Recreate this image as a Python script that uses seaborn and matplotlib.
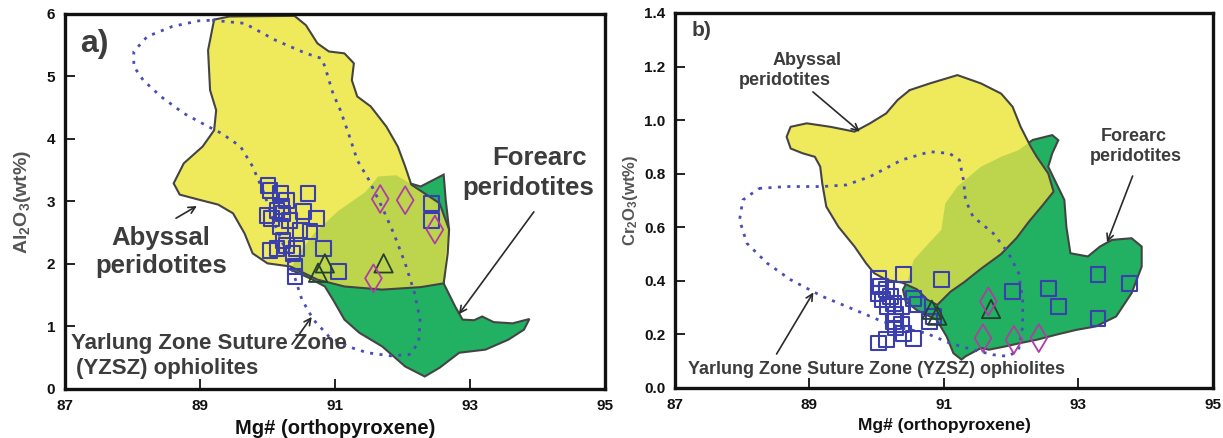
import matplotlib
matplotlib.use("Agg")
import matplotlib.pyplot as plt
import seaborn as sns

# ---- panel a: Al2O3 vs Mg# ----
# abyssal peridotite field
aby_a_x = [89.21, 89.44, 90.40, 90.57, 90.74, 90.91, 91.14, 91.28, 91.25, 91.33, 91.53, 91.76, 91.93,
           92.04, 92.13, 92.55, 92.69, 92.67, 92.61, 92.27, 91.70, 91.14, 90.74, 90.34, 90.00, 89.78,
           89.66, 89.49, 89.27, 88.98, 88.70, 88.61, 88.76, 89.04, 89.21, 89.24, 89.15, 89.12]
aby_a_y = [5.91, 5.96, 5.97, 5.82, 5.53, 5.40, 5.37, 5.21, 4.94, 4.68, 4.52, 4.20, 3.88,
           3.56, 3.27, 2.97, 2.55, 2.17, 1.69, 1.63, 1.59, 1.64, 1.75, 1.96, 2.01, 2.17,
           2.49, 2.81, 2.95, 3.03, 3.11, 3.29, 3.61, 3.88, 4.14, 4.46, 4.78, 5.42]
# forearc peridotite field
fore_a_x = [92.61, 92.64, 92.69, 92.64, 92.61, 92.78, 92.89, 93.06, 93.18, 93.35, 93.63, 93.88,
            93.80, 93.57, 93.23, 92.84, 92.55, 92.33, 92.04, 91.70, 91.36, 91.14, 90.97, 90.85,
            90.63, 90.34, 90.45, 90.70, 91.05, 91.45, 91.64, 91.91, 92.11, 92.27]
fore_a_y = [3.43, 3.03, 2.55, 2.17, 1.69, 1.32, 1.11, 1.10, 1.16, 1.07, 1.05, 1.12,
            0.95, 0.79, 0.63, 0.58, 0.34, 0.20, 0.36, 0.68, 0.90, 1.11, 1.43, 1.64,
            1.77, 1.91, 2.15, 2.50, 2.85, 3.15, 3.40, 3.42, 3.29, 3.24]
# YZSZ ophiolite field (dotted)
yz_a_x = [89.18, 89.66, 90.12, 90.57, 90.80, 90.85, 90.97, 91.08, 91.20, 91.33, 91.50, 91.71, 91.87,
          92.04, 92.18, 92.26, 92.24, 92.10, 91.82, 91.48, 91.19, 90.91, 90.68, 90.51, 90.40, 90.29,
          90.12, 89.95, 89.78, 89.60, 89.32, 89.12, 88.76, 88.42, 88.16, 88.02, 88.02, 88.22, 88.59,
          88.98, 89.18]
yz_a_y = [5.90, 5.85, 5.58, 5.37, 5.29, 5.16, 4.73, 4.46, 4.09, 3.66, 3.35, 2.88, 2.49,
          2.01, 1.53, 1.11, 0.74, 0.55, 0.53, 0.58, 0.68, 0.84, 1.11, 1.43, 1.80, 2.17,
          2.60, 3.13, 3.56, 3.88, 4.09, 4.20, 4.41, 4.68, 4.94, 5.16, 5.40, 5.64, 5.80,
          5.89, 5.90]
# samples
sq_a_x = [90.01, 90.04, 90.19, 90.28, 90.60, 89.99, 90.14, 90.23, 90.33, 90.53, 90.73, 90.19, 90.48,
          90.63, 90.23, 90.14, 90.28, 90.43, 90.38, 90.83, 90.41, 90.41, 91.05, 92.43, 92.43, 90.06,
          90.21, 90.04]
sq_a_y = [3.26, 3.18, 3.13, 3.02, 3.13, 2.78, 2.86, 2.81, 2.70, 2.84, 2.73, 2.60, 2.54,
          2.52, 2.38, 2.25, 2.30, 2.25, 2.17, 2.25, 1.96, 1.80, 1.88, 2.97, 2.70, 2.73,
          2.92, 2.22]
tri_a_x = [90.85, 90.75, 91.72]
tri_a_y = [2.01, 1.86, 2.01]
dia_a_x = [91.67, 92.04, 92.48, 91.57]
dia_a_y = [3.04, 3.02, 2.55, 1.77]

# ---- panel b: Cr2O3 vs Mg# ----
aby_b_x = [90.49, 90.79, 91.20, 91.55, 91.85, 92.02, 92.14, 92.29, 92.38, 92.55, 92.63, 92.46, 92.26,
           92.08, 91.85, 91.55, 91.30, 91.10, 90.90, 90.75, 90.60, 90.38, 90.14, 89.96, 89.84, 89.67,
           89.43, 89.25, 89.19, 89.16, 89.08, 88.90, 88.72, 88.66, 88.72, 88.96, 89.31, 89.67, 89.90,
           90.14, 90.31]
aby_b_y = [1.112, 1.137, 1.168, 1.137, 1.099, 1.050, 0.975, 0.901, 0.863, 0.801, 0.733, 0.680, 0.620,
           0.560, 0.500, 0.445, 0.395, 0.360, 0.310, 0.330, 0.368, 0.393, 0.404, 0.429, 0.466, 0.528,
           0.602, 0.677, 0.764, 0.826, 0.863, 0.876, 0.894, 0.938, 0.975, 0.988, 0.975, 0.957, 0.988,
           1.025, 1.075]
fore_b_x = [92.11, 92.32, 92.61, 92.70, 92.61, 92.55, 92.67, 92.79, 92.82, 92.88, 93.14, 93.32, 93.50,
            93.79, 93.94, 93.94, 93.79, 93.56, 93.26, 92.97, 92.67, 92.38, 92.14, 91.91, 91.67, 91.55,
            91.32, 91.26, 91.14, 91.04, 90.89, 90.79, 90.60, 90.43, 90.39, 90.46, 90.55, 90.73, 90.96,
            91.02, 91.20, 91.55, 91.85]
fore_b_y = [0.888, 0.926, 0.944, 0.925, 0.876, 0.826, 0.764, 0.702, 0.602, 0.503, 0.491, 0.528, 0.553,
            0.559, 0.528, 0.453, 0.354, 0.267, 0.230, 0.217, 0.199, 0.180, 0.168, 0.155, 0.143, 0.149,
            0.118, 0.106, 0.130, 0.192, 0.255, 0.267, 0.290, 0.323, 0.367, 0.400, 0.478, 0.528, 0.590,
            0.689, 0.752, 0.826, 0.863]
yz_b_x = [88.25, 88.66, 89.19, 89.55, 89.90, 90.37, 90.79, 91.08, 91.23, 91.29, 91.32, 91.43, 91.73,
          91.96, 92.11, 92.17, 92.17, 92.11, 91.96, 91.73, 91.43, 91.08, 90.73, 90.37, 90.02, 89.67,
          89.19, 88.72, 88.37, 88.07, 87.96, 88.01, 88.25]
yz_b_y = [0.745, 0.752, 0.752, 0.758, 0.789, 0.851, 0.882, 0.876, 0.851, 0.776, 0.702, 0.640, 0.578,
          0.503, 0.429, 0.329, 0.230, 0.143, 0.118, 0.124, 0.143, 0.168, 0.205, 0.224, 0.255, 0.292,
          0.342, 0.404, 0.466, 0.540, 0.627, 0.702, 0.745]
sq_b_x = [90.02, 90.05, 90.14, 90.40, 90.96, 90.02, 90.20, 90.08, 90.25, 90.16, 90.37, 90.55, 90.61,
          90.84, 90.79, 90.28, 90.25, 90.37, 90.28, 90.40, 90.55, 90.14, 90.02, 92.02, 92.55, 92.70,
          93.29, 93.76, 93.29]
sq_b_y = [0.410, 0.379, 0.366, 0.422, 0.404, 0.354, 0.342, 0.329, 0.317, 0.304, 0.304, 0.335, 0.311,
          0.267, 0.248, 0.273, 0.248, 0.236, 0.224, 0.205, 0.186, 0.180, 0.168, 0.360, 0.373, 0.304,
          0.422, 0.391, 0.261]
tri_b_x = [90.82, 90.90, 91.70]
tri_b_y = [0.292, 0.270, 0.295]
dia_b_x = [91.66, 91.58, 92.04, 92.41]
dia_b_y = [0.323, 0.186, 0.180, 0.186]

x_ticks = [87, 89, 91, 93, 95]

YELLOW = "#eeea5c"
GREEN = "#22b062"
MIX = "#bdd54c"
EDGE = "#444444"
BLUE = "#3b3fae"
DOT = "#4a4db8"
TRI = "#24402e"
PINK = "#b03ca6"
TXT = "#3c3c3c"

sns.set_theme(style="white")
plt.rcParams["font.family"] = ["Liberation Sans", "DejaVu Sans"]
plt.rcParams["font.weight"] = "bold"
plt.rcParams["axes.labelweight"] = "bold"
plt.rcParams["mathtext.fontset"] = "custom"
plt.rcParams["mathtext.rm"] = "Liberation Sans:bold"
plt.rcParams["mathtext.bf"] = "Liberation Sans:bold"
plt.rcParams["mathtext.default"] = "bf"


def draw_fields(ax, ax_x, ax_y, fx, fy, zx, zy):
    # forearc first, abyssal on top, overlap re-filled clipped to forearc
    fore = ax.fill(fx, fy, color=GREEN, ec=EDGE, lw=1.5, zorder=1)[0]
    ax.fill(ax_x, ax_y, color=YELLOW, lw=0, zorder=2)
    over = ax.fill(ax_x, ax_y, color=MIX, lw=0, zorder=3)[0]
    over.set_clip_path(fore)
    ax.plot(list(ax_x) + [ax_x[0]], list(ax_y) + [ax_y[0]], color=EDGE, lw=1.5, zorder=4)
    ax.plot(zx, zy, color=DOT, lw=2.0, ls=(0, (1.1, 2.3)), zorder=4.5)


def draw_samples(ax, sx, sy, tx, ty, dx, dy, ssz):
    sns.scatterplot(x=sx, y=sy, marker="s", s=ssz, facecolor="none", edgecolor=BLUE,
                    linewidth=1.5, ax=ax, zorder=6)
    sns.scatterplot(x=tx, y=ty, marker="^", s=175, facecolor="none", edgecolor=TRI,
                    linewidth=1.3, ax=ax, zorder=7)
    sns.scatterplot(x=dx, y=dy, marker="d", s=200, facecolor="none", edgecolor=PINK,
                    linewidth=1.3, ax=ax, zorder=7)


def style_axes(ax, ylim, yticks, yfmt):
    ax.set_xlim(87, 95)
    ax.set_ylim(*ylim)
    ax.set_xticks(x_ticks)
    ax.set_yticks(yticks)
    ax.set_yticklabels([yfmt.format(v) for v in yticks])
    ax.tick_params(direction="in", length=7, width=1.3, pad=7, labelsize=11,
                   colors="#111111", left=True, bottom=True)
    for sp in ax.spines.values():
        sp.set_linewidth(2.4)
        sp.set_color("#111111")
        sp.set_zorder(10)


def arrow(ax, tail, head):
    ax.annotate("", xy=head, xytext=tail,
                arrowprops=dict(arrowstyle="->", color="#2a2a2a", lw=1.2, mutation_scale=12),
                zorder=8)


fig = plt.figure(figsize=(12.23, 4.38), dpi=100)
axA = fig.add_axes([0.0531, 0.1119, 0.4416, 0.8562])
axB = fig.add_axes([0.5519, 0.1142, 0.4399, 0.8562])

# panel a
draw_fields(axA, aby_a_x, aby_a_y, fore_a_x, fore_a_y, yz_a_x, yz_a_y)
draw_samples(axA, sq_a_x, sq_a_y, tri_a_x, tri_a_y, dia_a_x, dia_a_y, 110)
style_axes(axA, (0, 6), [0, 1, 2, 3, 4, 5, 6], "{:.0f}")
axA.set_xlabel("Mg# (orthopyroxene)", fontsize=14.5, color="#111111")
axA.set_ylabel("Al$_2$O$_3$(wt%)", fontsize=14, color="#555555")
axA.xaxis.set_label_coords(0.5, -0.08)
axA.yaxis.set_label_coords(-0.06, 0.5)
axA.text(87.22, 5.52, "a)", fontsize=23, color=TXT, ha="left", va="center")
axA.text(88.42, 2.41, "Abyssal", fontsize=18.5, color=TXT, ha="center", va="center")
axA.text(88.43, 1.96, "peridotites", fontsize=18.5, color=TXT, ha="center", va="center")
axA.text(94.03, 3.69, "Forearc", fontsize=18.5, color=TXT, ha="center", va="center")
axA.text(93.86, 3.21, "peridotites", fontsize=18.5, color=TXT, ha="center", va="center")
axA.text(87.085, 0.735, "Yarlung Zone Suture Zone", fontsize=16, color=TXT, ha="left", va="center", zorder=9)
axA.text(87.16, 0.32, "(YZSZ) ophiolites", fontsize=16, color=TXT, ha="left", va="center", zorder=9)
arrow(axA, (88.61, 2.71), (88.99, 2.95))
arrow(axA, (93.97, 2.87), (92.81, 1.16))
arrow(axA, (90.34, 0.68), (90.68, 1.19))

# panel b
draw_fields(axB, aby_b_x, aby_b_y, fore_b_x, fore_b_y, yz_b_x, yz_b_y)
draw_samples(axB, sq_b_x, sq_b_y, tri_b_x, tri_b_y, dia_b_x, dia_b_y, 115)
style_axes(axB, (0, 1.4), [0.0, 0.2, 0.4, 0.6, 0.8, 1.0, 1.2, 1.4], "{:.1f}")
axB.set_xlabel("Mg# (orthopyroxene)", fontsize=12.5, color="#111111")
axB.set_ylabel("Cr$_2$O$_3$(wt%)", fontsize=12, color="#555555")
axB.xaxis.set_label_coords(0.5, -0.08)
axB.yaxis.set_label_coords(-0.065, 0.5)
axB.text(87.25, 1.334, "b)", fontsize=15, color=TXT, ha="left", va="center")
axB.text(88.96, 1.224, "Abyssal", fontsize=13, color=TXT, ha="center", va="center")
axB.text(88.63, 1.149, "peridotites", fontsize=13, color=TXT, ha="center", va="center")
axB.text(93.82, 0.940, "Forearc", fontsize=13, color=TXT, ha="center", va="center")
axB.text(93.85, 0.866, "peridotites", fontsize=13, color=TXT, ha="center", va="center")
axB.text(87.19, 0.068, "Yarlung Zone Suture Zone (YZSZ) ophiolites", fontsize=13, color=TXT,
         ha="left", va="center", zorder=9)
arrow(axB, (89.02, 1.112), (89.78, 0.950))
arrow(axB, (93.82, 0.801), (93.41, 0.534))
arrow(axB, (88.49, 0.118), (89.08, 0.366))

fig.savefig("out.png", dpi=100)
